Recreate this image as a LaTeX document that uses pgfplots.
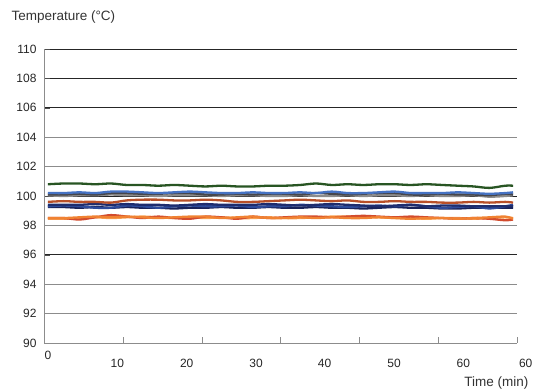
\documentclass[border=0pt]{standalone}
\usepackage{pgfplots}
\pgfplotsset{compat=1.18}
\usepackage{fontspec}
\setmainfont{Liberation Sans}
\definecolor{cgreen}{RGB}{40,85,35}
\definecolor{cblue}{RGB}{70,115,195}
\definecolor{cgray}{RGB}{140,140,140}
\definecolor{cdgray}{RGB}{70,70,75}
\definecolor{cbrown}{RGB}{185,80,40}
\definecolor{cnavy}{RGB}{30,45,110}
\definecolor{cnavyb}{RGB}{45,75,155}
\definecolor{cnavyc}{RGB}{25,35,90}
\definecolor{corange}{RGB}{240,130,50}
\definecolor{cred}{RGB}{210,75,45}
\definecolor{clorange}{RGB}{248,160,80}
\begin{document}
\begin{tikzpicture}
\begin{axis}[
  width=473pt, height=294pt, scale only axis,
  xmin=0, xmax=60, ymin=90, ymax=110,
  axis x line*=bottom, axis y line*=left,
  axis line style={black!45},
  xtick={0,10,...,60}, xticklabels={},
  major tick length=6pt,
  xtick style={black!45},
  ytick={90,92,...,110},
  ytick style={black!70},
  yticklabel style={font=\fontsize{12}{14}\selectfont, text=black!85, xshift=-4pt},
  /pgf/number format/assume math mode=true,
  ymajorgrids, grid style={black!85, line width=0.7pt},
  clip=false,
  every axis plot/.append style={line width=2.3pt, smooth, no markers},
]
\addplot[black!45, line width=0.9pt, sharp plot] coordinates {(0,104)(60,104)};
\addplot[black!45, line width=0.9pt, sharp plot] coordinates {(0,102)(60,102)};
\addplot[black!45, line width=0.9pt, sharp plot] coordinates {(0,98)(60,98)};
\addplot[black!45, line width=0.9pt, sharp plot] coordinates {(0,94)(60,94)};
\addplot[black!45, line width=0.9pt, sharp plot] coordinates {(0,92)(60,92)};
% light orange
\addplot[clorange] coordinates {(0.5,98.45)(2.5,98.45)(4.5,98.5)(6.5,98.55)(8.5,98.5)(10.5,98.55)(12.5,98.6)(14.5,98.55)(16.5,98.5)(18.5,98.55)(20.5,98.5)(22.5,98.55)(24.5,98.5)(26.5,98.5)(28.5,98.55)(30.5,98.5)(32.5,98.5)(34.5,98.55)(36.5,98.6)(38.5,98.6)(40.5,98.6)(42.5,98.55)(44.5,98.5)(46.5,98.5)(48.5,98.45)(50.5,98.5)(52.5,98.5)(54.5,98.45)(56.5,98.5)(58.5,98.55)(59.5,98.5)};
% red
\addplot[cred] coordinates {(0.5,98.5)(2.5,98.5)(4.5,98.4)(6.5,98.55)(8.5,98.7)(10.5,98.6)(12.5,98.5)(14.5,98.6)(16.5,98.5)(18.5,98.45)(20.5,98.6)(22.5,98.55)(24.5,98.45)(26.5,98.6)(28.5,98.5)(30.5,98.55)(32.5,98.6)(34.5,98.6)(36.5,98.55)(38.5,98.6)(40.5,98.65)(42.5,98.6)(44.5,98.55)(46.5,98.6)(48.5,98.55)(50.5,98.5)(52.5,98.45)(54.5,98.5)(56.5,98.45)(58.5,98.35)(59.5,98.4)};
% orange
\addplot[corange] coordinates {(0.5,98.5)(2.5,98.5)(4.5,98.55)(6.5,98.6)(8.5,98.55)(10.5,98.6)(12.5,98.55)(14.5,98.5)(16.5,98.55)(18.5,98.6)(20.5,98.6)(22.5,98.5)(24.5,98.55)(26.5,98.6)(28.5,98.5)(30.5,98.5)(32.5,98.55)(34.5,98.5)(36.5,98.55)(38.5,98.5)(40.5,98.5)(42.5,98.55)(44.5,98.5)(46.5,98.45)(48.5,98.5)(50.5,98.5)(52.5,98.45)(54.5,98.5)(56.5,98.55)(58.5,98.6)(59.5,98.45)};
% navy c
\addplot[cnavyc] coordinates {(0.5,99.25)(2.5,99.25)(4.5,99.2)(6.5,99.25)(8.5,99.2)(10.5,99.25)(12.5,99.2)(14.5,99.2)(16.5,99.15)(18.5,99.2)(20.5,99.2)(22.5,99.25)(24.5,99.2)(26.5,99.2)(28.5,99.25)(30.5,99.2)(32.5,99.2)(34.5,99.25)(36.5,99.2)(38.5,99.2)(40.5,99.15)(42.5,99.2)(44.5,99.25)(46.5,99.2)(48.5,99.2)(50.5,99.15)(52.5,99.15)(54.5,99.2)(56.5,99.2)(58.5,99.2)(59.5,99.2)};
% navy b
\addplot[cnavyb] coordinates {(0.5,99.3)(2.5,99.35)(4.5,99.3)(6.5,99.2)(8.5,99.2)(10.5,99.35)(12.5,99.3)(14.5,99.2)(16.5,99.3)(18.5,99.35)(20.5,99.3)(22.5,99.3)(24.5,99.35)(26.5,99.25)(28.5,99.3)(30.5,99.3)(32.5,99.4)(34.5,99.35)(36.5,99.3)(38.5,99.25)(40.5,99.3)(42.5,99.35)(44.5,99.3)(46.5,99.4)(48.5,99.3)(50.5,99.2)(52.5,99.25)(54.5,99.3)(56.5,99.15)(58.5,99.3)(59.5,99.4)};
% navy
\addplot[cnavy] coordinates {(0.5,99.4)(2.5,99.4)(4.5,99.4)(6.5,99.45)(8.5,99.4)(10.5,99.45)(12.5,99.4)(14.5,99.4)(16.5,99.35)(18.5,99.4)(20.5,99.45)(22.5,99.4)(24.5,99.4)(26.5,99.4)(28.5,99.45)(30.5,99.4)(32.5,99.35)(34.5,99.4)(36.5,99.45)(38.5,99.4)(40.5,99.35)(42.5,99.3)(44.5,99.35)(46.5,99.4)(48.5,99.3)(50.5,99.35)(52.5,99.35)(54.5,99.3)(56.5,99.3)(58.5,99.3)(59.5,99.3)};
% brown
\addplot[cbrown] coordinates {(0.5,99.6)(2.5,99.65)(4.5,99.6)(6.5,99.6)(8.5,99.55)(10.5,99.7)(12.5,99.75)(14.5,99.75)(16.5,99.7)(18.5,99.7)(20.5,99.75)(22.5,99.7)(24.5,99.6)(26.5,99.6)(28.5,99.65)(30.5,99.7)(32.5,99.75)(34.5,99.7)(36.5,99.65)(38.5,99.7)(40.5,99.6)(42.5,99.6)(44.5,99.65)(46.5,99.6)(48.5,99.6)(50.5,99.55)(52.5,99.55)(54.5,99.6)(56.5,99.55)(58.5,99.6)(59.5,99.55)};
% gray
\addplot[cgray] coordinates {(0.5,100.05)(2.5,100.0)(4.5,100.05)(6.5,100.05)(8.5,100.1)(10.5,100.05)(12.5,100.05)(14.5,100.0)(16.5,100.05)(18.5,100.05)(20.5,100.05)(22.5,100.0)(24.5,100.05)(26.5,100.05)(28.5,100.0)(30.5,100.0)(32.5,100.05)(34.5,100.0)(36.5,100.0)(38.5,100.05)(40.5,100.0)(42.5,100.05)(44.5,100.05)(46.5,100.0)(48.5,100.05)(50.5,100.0)(52.5,100.0)(54.5,100.05)(56.5,99.95)(58.5,100.0)(59.5,100.05)};
% dark gray
\addplot[cdgray] coordinates {(0.5,100.1)(2.5,100.1)(4.5,100.15)(6.5,100.1)(8.5,100.2)(10.5,100.2)(12.5,100.15)(14.5,100.15)(16.5,100.2)(18.5,100.2)(20.5,100.1)(22.5,100.1)(24.5,100.15)(26.5,100.1)(28.5,100.15)(30.5,100.15)(32.5,100.1)(34.5,100.2)(36.5,100.15)(38.5,100.1)(40.5,100.15)(42.5,100.2)(44.5,100.2)(46.5,100.1)(48.5,100.1)(50.5,100.15)(52.5,100.1)(54.5,100.1)(56.5,100.05)(58.5,100.15)(59.5,100.1)};
% blue
\addplot[cblue] coordinates {(0.5,100.2)(2.5,100.2)(4.5,100.25)(6.5,100.2)(8.5,100.3)(10.5,100.3)(12.5,100.25)(14.5,100.2)(16.5,100.25)(18.5,100.3)(20.5,100.25)(22.5,100.2)(24.5,100.2)(26.5,100.25)(28.5,100.2)(30.5,100.2)(32.5,100.25)(34.5,100.2)(36.5,100.3)(38.5,100.2)(40.5,100.2)(42.5,100.25)(44.5,100.3)(46.5,100.2)(48.5,100.2)(50.5,100.2)(52.5,100.25)(54.5,100.2)(56.5,100.15)(58.5,100.2)(59.5,100.25)};
% green
\addplot[cgreen] coordinates {(0.5,100.8)(2.5,100.85)(4.5,100.85)(6.5,100.8)(8.5,100.85)(10.5,100.75)(12.5,100.75)(14.5,100.7)(16.5,100.75)(18.5,100.7)(20.5,100.65)(22.5,100.7)(24.5,100.65)(26.5,100.65)(28.5,100.7)(30.5,100.7)(32.5,100.75)(34.5,100.85)(36.5,100.75)(38.5,100.8)(40.5,100.75)(42.5,100.8)(44.5,100.8)(46.5,100.75)(48.5,100.8)(50.5,100.75)(52.5,100.7)(54.5,100.65)(56.5,100.55)(58.5,100.7)(59.5,100.7)};
\begin{scope}[font=\fontsize{12}{14}\selectfont, text=black!85]
\node[anchor=center] at (axis cs:0.5,90) [yshift=-12pt] {0};
\node[anchor=center] at (axis cs:9.3,90) [yshift=-20pt] {10};
\node[anchor=center] at (axis cs:18.1,90) [yshift=-20pt] {20};
\node[anchor=center] at (axis cs:26.9,90) [yshift=-20pt] {30};
\node[anchor=center] at (axis cs:35.6,90) [yshift=-20pt] {40};
\node[anchor=center] at (axis cs:44.4,90) [yshift=-20pt] {50};
\node[anchor=center] at (axis cs:53.2,90) [yshift=-20pt] {60};
\node[anchor=center] at (axis cs:61.1,90) [yshift=-20pt] {60};
\end{scope}
\end{axis}
\pgfresetboundingbox
\useasboundingbox ([shift={(-44pt,-47pt)}]current axis.south west) rectangle ([shift={(20pt,49pt)}]current axis.north east);
\node[anchor=west, font=\fontsize{13.5}{16}\selectfont, text=black!80] at ([shift={(-36pt,32pt)}]current axis.north west) {Temperature (°C)};
\node[anchor=east, font=\fontsize{13.5}{16}\selectfont, text=black!80] at ([shift={(15pt,-40pt)}]current axis.south east) {Time (min)};
\end{tikzpicture}
\end{document}
